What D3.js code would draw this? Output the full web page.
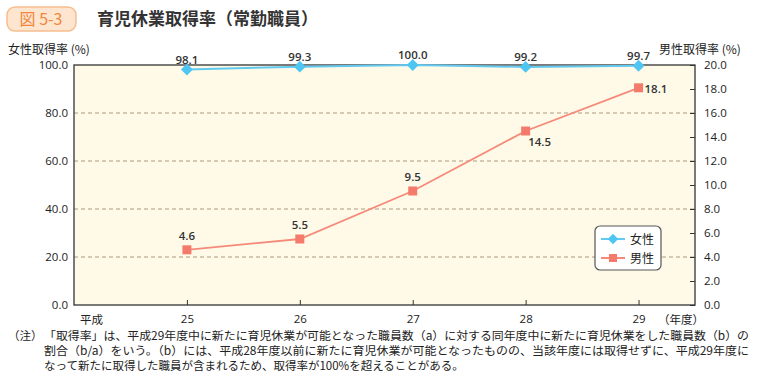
<!DOCTYPE html>
<html><head><meta charset="utf-8">
<script src="https://cdn.jsdelivr.net/npm/d3@7"></script>
<style>body{margin:0;background:#fff;}svg{display:block;font-family:"Noto Sans CJK JP","Noto Sans",sans-serif;}</style>
</head><body>
<script>
const years = [25, 26, 27, 28, 29];
const yearLabels = ["25", "26", "27", "28", "29"];
const female = [98.1, 99.3, 100.0, 99.2, 99.7];
const male = [4.6, 5.5, 9.5, 14.5, 18.1];
const leftTicks = [0, 20, 40, 60, 80, 100];
const rightTicks = [0, 2, 4, 6, 8, 10, 12, 14, 16, 18, 20];
const notes = [
  "「取得率」は、平成29年度中に新たに育児休業が可能となった職員数（a）に対する同年度中に新たに育児休業をした職員数（b）の",
  "割合（b/a）をいう。（b）には、平成28年度以前に新たに育児休業が可能となったものの、当該年度には取得せずに、平成29年度に",
  "なって新たに取得した職員が含まれるため、取得率が100%を超えることがある。"
];

const W = 760, H = 380;
const L = 74, R = 695, T = 65, B = 305;
const svg = d3.select("body").append("svg").attr("width", W).attr("height", H);

const x = d3.scaleLinear().domain([24, 29.5]).range([L, R]);
const yL = d3.scaleLinear().domain([0, 100]).range([B, T]);
const yR = d3.scaleLinear().domain([0, 20]).range([B, T]);

// title
svg.append("rect").attr("x", 7).attr("y", 7).attr("width", 69).attr("height", 24).attr("rx", 8)
  .attr("fill", "#fde5d0").attr("stroke", "#f6bd8f").attr("stroke-width", 1.5);
svg.append("text").attr("x", 41).attr("y", 25).attr("text-anchor", "middle")
  .attr("font-size", 16).attr("fill", "#f0873a").text("図 5-3");
svg.append("text").attr("x", 97).attr("y", 25).attr("font-size", 17).attr("font-weight", "bold")
  .attr("fill", "#333").text("育児休業取得率（常勤職員）");

// plot background
svg.append("rect").attr("x", L).attr("y", T).attr("width", R - L).attr("height", B - T).attr("fill", "#fffae8");

// gridlines
svg.append("g").selectAll("line").data(leftTicks.filter(d => d > 0 && d < 100)).join("line")
  .attr("x1", L).attr("x2", R).attr("y1", d => yL(d)).attr("y2", d => yL(d))
  .attr("stroke", "#ad9a80").attr("stroke-dasharray", "4,3").attr("stroke-width", 1);

// left axis
const gL = svg.append("g").attr("transform", `translate(${L},0)`)
  .call(d3.axisLeft(yL).tickValues(leftTicks).tickFormat(d3.format(".1f")).tickSize(0).tickPadding(6));
gL.select(".domain").remove();
gL.selectAll("text").attr("font-size", 11.5).attr("fill", "#222").attr("font-family", "Open Sans, sans-serif");

// right axis
const gR = svg.append("g").attr("transform", `translate(${R},0)`)
  .call(d3.axisRight(yR).tickValues(rightTicks).tickFormat(d3.format(".1f")).tickSizeInner(-5).tickSizeOuter(0).tickPadding(9));
gR.select(".domain").remove();
gR.selectAll("line").attr("stroke", "#333");
gR.selectAll("text").attr("font-size", 11.5).attr("fill", "#222").attr("font-family", "Open Sans, sans-serif");

// x axis
const gX = svg.append("g").attr("transform", `translate(0,${B})`)
  .call(d3.axisBottom(x).tickValues(years).tickFormat((d, i) => yearLabels[i]).tickSizeInner(-5).tickSizeOuter(0).tickPadding(10));
gX.select(".domain").remove();
gX.selectAll("line").attr("stroke", "#333");
gX.selectAll("text").attr("font-size", 11.5).attr("fill", "#222").attr("font-family", "Open Sans, sans-serif");
svg.append("text").attr("x", 80).attr("y", 324).attr("font-size", 11.5).attr("fill", "#222").text("平成");
svg.append("text").attr("x", 658).attr("y", 324).attr("font-size", 11.5).attr("fill", "#222").text("（年度）");

// frame
svg.append("rect").attr("x", L).attr("y", T).attr("width", R - L).attr("height", B - T)
  .attr("fill", "none").attr("stroke", "#333").attr("stroke-width", 1.3);

// axis titles
svg.append("text").attr("x", 8).attr("y", 54).attr("font-size", 12).attr("fill", "#222").text("女性取得率 (%)");
svg.append("text").attr("x", 659).attr("y", 54).attr("font-size", 12).attr("fill", "#222").text("男性取得率 (%)");

// female line
const fCol = "#4fc6f2", fLine = "#62c9f0";
svg.append("path").datum(female).attr("fill", "none").attr("stroke", fLine).attr("stroke-width", 2)
  .attr("d", d3.line().x((d, i) => x(years[i])).y(d => yL(d)));
svg.append("g").selectAll("path").data(female).join("path")
  .attr("transform", (d, i) => `translate(${x(years[i])},${yL(d)})`)
  .attr("d", d3.symbol(d3.symbolDiamond2, 90)).attr("fill", fCol);
svg.append("g").selectAll("text").data(female).join("text")
  .attr("x", (d, i) => x(years[i])).attr("y", d => yL(d) - 6).attr("text-anchor", "middle")
  .attr("font-size", 11.5).attr("font-weight", 600).attr("fill", "#333").attr("font-family", "Open Sans, sans-serif")
  .text(d => d.toFixed(1));

// male line
const mCol = "#f47b6b", mLine = "#f68a7a";
svg.append("path").datum(male).attr("fill", "none").attr("stroke", mLine).attr("stroke-width", 1.8)
  .attr("d", d3.line().x((d, i) => x(years[i])).y(d => yR(d)));
svg.append("g").selectAll("rect").data(male).join("rect")
  .attr("x", (d, i) => x(years[i]) - 4.5).attr("y", d => yR(d) - 4.5).attr("width", 9).attr("height", 9).attr("fill", mCol);
const mOff = [[0, -10, "middle"], [0, -10, "middle"], [0, -10, "middle"], [14, 15, "middle"], [6, 5, "start"]];
svg.append("g").selectAll("text").data(male).join("text")
  .attr("x", (d, i) => x(years[i]) + mOff[i][0]).attr("y", (d, i) => yR(d) + mOff[i][1])
  .attr("text-anchor", (d, i) => mOff[i][2])
  .attr("font-size", 11.5).attr("font-weight", 600).attr("fill", "#333").attr("font-family", "Open Sans, sans-serif")
  .text(d => d.toFixed(1));

// legend
const lg = svg.append("g").attr("transform", "translate(595,226)");
lg.append("rect").attr("width", 66).attr("height", 44).attr("rx", 5).attr("fill", "#fff").attr("stroke", "#555").attr("stroke-width", 1.2);
lg.append("line").attr("x1", 6).attr("x2", 30).attr("y1", 13).attr("y2", 13).attr("stroke", fLine).attr("stroke-width", 2);
lg.append("path").attr("transform", "translate(18,13)").attr("d", d3.symbol(d3.symbolDiamond2, 70)).attr("fill", fCol);
lg.append("text").attr("x", 35).attr("y", 18).attr("font-size", 12).attr("fill", "#222").text("女性");
lg.append("line").attr("x1", 6).attr("x2", 30).attr("y1", 32).attr("y2", 32).attr("stroke", mLine).attr("stroke-width", 2);
lg.append("rect").attr("x", 14).attr("y", 28).attr("width", 8).attr("height", 8).attr("fill", mCol);
lg.append("text").attr("x", 35).attr("y", 37).attr("font-size", 12).attr("fill", "#222").text("男性");

// notes
svg.append("text").attr("x", 8).attr("y", 340).attr("font-size", 11.5).attr("fill", "#222").text("（注）");
svg.append("g").selectAll("text").data(notes).join("text")
  .attr("x", 44).attr("y", (d, i) => 340 + i * 15).attr("font-size", 11.5).attr("fill", "#222")
  .attr("textLength", (d, i) => i < 2 ? 705 : null).attr("lengthAdjust", "spacingAndGlyphs")
  .text(d => d);
</script>
</body></html>
